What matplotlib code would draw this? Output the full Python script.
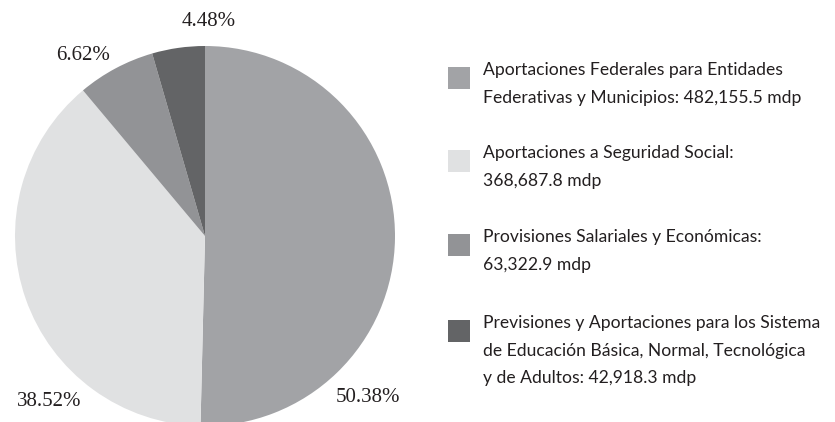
import matplotlib.pyplot as plt
from matplotlib.patches import Rectangle

# data
labels = ["Aportaciones Federales para Entidades\nFederativas y Municipios: 482,155.5 mdp",
          "Aportaciones a Seguridad Social:\n368,687.8 mdp",
          "Provisiones Salariales y Económicas:\n63,322.9 mdp",
          "Previsiones y Aportaciones para los Sistema\nde Educación Básica, Normal, Tecnológica\ny de Adultos: 42,918.3 mdp"]
values = [482155.5, 368687.8, 63322.9, 42918.3]
colors = ["#a2a3a6", "#e0e1e2", "#929396", "#636466"]

total = sum(values)
pcts = [v / total * 100 for v in values]

fig = plt.figure(figsize=(8.35, 4.22), dpi=100)
ax = fig.add_axes([15 / 835, -4 / 422, 380 / 835, 380 / 422])
ax.pie(values, colors=colors, startangle=90, counterclock=False, radius=1,
       wedgeprops=dict(linewidth=0))
ax.set_xlim(-1, 1)
ax.set_ylim(-1, 1)
ax.set_aspect('equal')
ax.axis('off')

# percentage labels
label_pos = [(0.86, -0.85), (-0.82, -0.87), (-0.64, 0.95), (0.02, 1.13)]
for p, (lx, ly) in zip(pcts, label_pos):
    ax.text(lx, ly, f"{p:.2f}%", ha='center', va='center',
            family='Liberation Serif', fontsize=15, color='#231f20')

# legend, drawn by hand
sq_top = [67, 150, 234, 320]
for lab, col, top in zip(labels, colors, sq_top):
    fig.patches.append(Rectangle((448 / 835, 1 - (top + 22) / 422), 22 / 835, 22 / 422,
                                 transform=fig.transFigure, color=col, linewidth=0))
    fig.text(483 / 835, 1 - (top - 5) / 422, lab, ha='left', va='top',
             family='Lato', fontsize=12.6, color='#231f20', linespacing=1.9)

fig.savefig('out.png', dpi=100)
